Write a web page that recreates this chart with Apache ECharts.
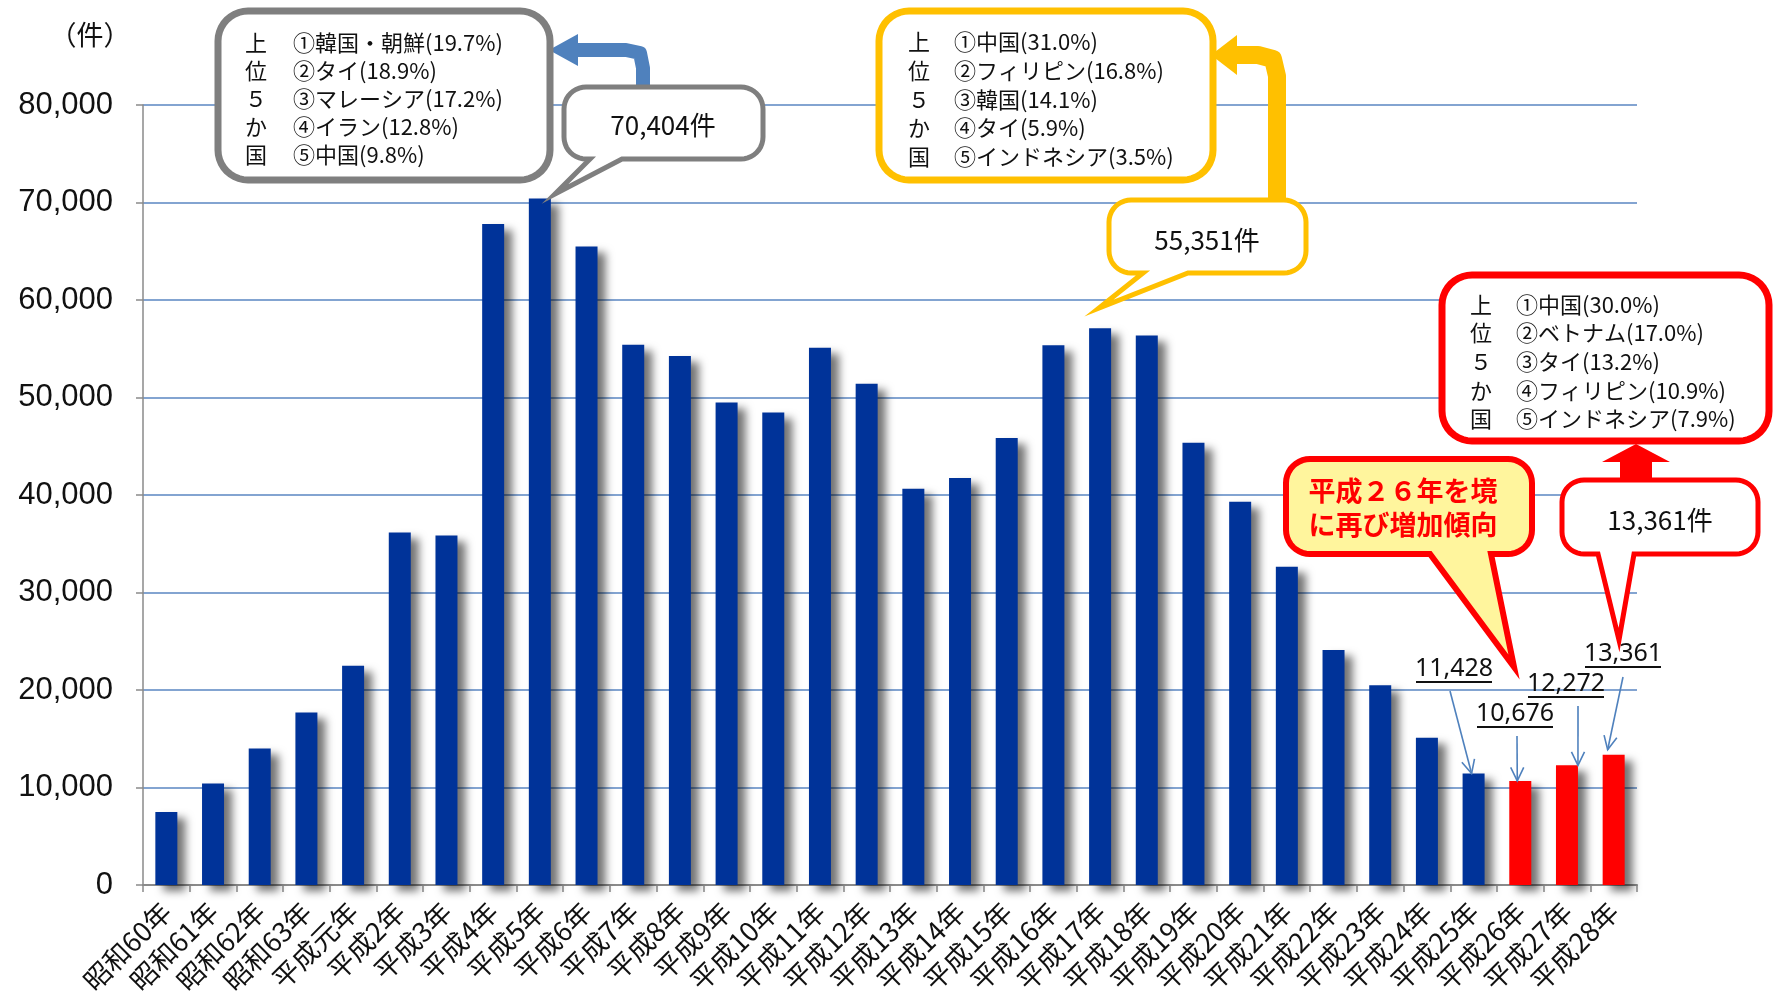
<!DOCTYPE html>
<html><head><meta charset="utf-8">
<script src="https://cdn.jsdelivr.net/npm/echarts@6/dist/echarts.min.js"></script>
<style>html,body{margin:0;padding:0;background:#fff}#c{width:1773px;height:1000px}</style>
</head><body><div id="c"></div>
<script>
// ---- data ----
const categories = ['昭和60年','昭和61年','昭和62年','昭和63年','平成元年','平成2年','平成3年','平成4年','平成5年','平成6年','平成7年','平成8年','平成9年','平成10年','平成11年','平成12年','平成13年','平成14年','平成15年','平成16年','平成17年','平成18年','平成19年','平成20年','平成21年','平成22年','平成23年','平成24年','平成25年','平成26年','平成27年','平成28年'];
const values = [7500,10400,14000,17700,22500,36150,35850,67800,70404,65500,55400,54250,49500,48450,55100,51400,40650,41750,45850,55351,57100,56350,45350,39300,32650,24100,20500,15100,11428,10676,12272,13361];
const redFrom = '平成26年';
const yMin = 0, yMax = 80000, yStep = 10000;
const unitLabel = '（件）';
const rankRowHeads = ['上','位','５','か','国'];
const rankH5 = ['①韓国・朝鮮(19.7%)','②タイ(18.9%)','③マレーシア(17.2%)','④イラン(12.8%)','⑤中国(9.8%)'];
const rankH16 = ['①中国(31.0%)','②フィリピン(16.8%)','③韓国(14.1%)','④タイ(5.9%)','⑤インドネシア(3.5%)'];
const rankH28 = ['①中国(30.0%)','②ベトナム(17.0%)','③タイ(13.2%)','④フィリピン(10.9%)','⑤インドネシア(7.9%)'];
const calloutH5 = '70,404件', calloutH16 = '55,351件', calloutH28 = '13,361件';
const noteLines = ['平成２６年を境','に再び増加傾向'];
const labelled = ['平成25年','平成26年','平成27年','平成28年'];

const fmt = v => v.toLocaleString('en-US');
const redIdx = categories.indexOf(redFrom);
const CJK = '"Noto Sans CJK JP","Noto Sans",sans-serif';

const chart = echarts.init(document.getElementById('c'), null, {renderer:'canvas'});
chart.setOption({
  animation:false,
  backgroundColor:'#fff',
  grid:{left:143,right:136,top:105,bottom:115,containLabel:false,outerBoundsMode:'none'},
  xAxis:{type:'category',data:categories,boundaryGap:true,
    axisLine:{show:true,lineStyle:{color:'#8a8a8a',width:2}},
    axisTick:{show:true,length:7,lineStyle:{color:'#8a8a8a',width:1.5},alignWithLabel:false,interval:0},
    axisLabel:{interval:0,rotate:45,margin:22,fontSize:27,color:'#111',fontFamily:CJK},
    splitLine:{show:false}},
  yAxis:{type:'value',min:yMin,max:yMax,interval:yStep,
    axisLine:{show:true,lineStyle:{color:'#8a8a8a',width:1.5}},
    axisTick:{show:true,length:7,lineStyle:{color:'#8a8a8a',width:1.5}},
    axisLabel:{formatter:v=>fmt(v),fontSize:31,color:'#111',margin:30,fontFamily:'"Liberation Sans",Arial,sans-serif'},
    splitLine:{show:true,lineStyle:{color:'#5a86c2',width:1.5}}},
  series:[{type:'bar',barWidth:22,z:3,
    data:values.map((v,i)=>({value:v,itemStyle:{color:i>=redIdx?'#ff0000':'#003399'}})),
    itemStyle:{shadowColor:'rgba(0,0,0,0.55)',shadowBlur:9,shadowOffsetX:8,shadowOffsetY:6}}]
});

// rounded rectangle (with optional bottom tail) as polygon points
function calloutPts(x,y,w,h,r,tail){
  const pts=[];
  const arc=(cx,cy,a0,a1)=>{ for(let k=0;k<=10;k++){const a=a0+(a1-a0)*k/10; pts.push([cx+r*Math.cos(a),cy+r*Math.sin(a)]);} };
  const P=Math.PI;
  arc(x+r,y+r,P,1.5*P);
  arc(x+w-r,y+r,1.5*P,2*P);
  arc(x+w-r,y+h-r,0,0.5*P);
  if(tail){ pts.push([tail[1],y+h]); pts.push([tail[2],tail[3]]); pts.push([tail[0],y+h]); }
  arc(x+r,y+h-r,0.5*P,P);
  return pts;
}
const G=[];
function box(x,y,w,h,r,color,lw,fill,tail){
  G.push({type:'polygon',z:100,shape:{points:calloutPts(x,y,w,h,r,tail)},
    style:{fill:fill||'#fff',stroke:color,lineWidth:lw,lineJoin:'miter',miterLimit:10}});
}
function txt(t,x,y,size,opt){
  opt=opt||{};
  G.push({type:'text',z:110,style:{text:t,x:x,y:y,fill:opt.color||'#111',
    font:`${opt.weight||'normal'} ${size}px ${opt.family||CJK}`,
    textAlign:opt.align||'left',textVerticalAlign:'middle'}});
}
function rankBox(x,y,w,h,color,headX,colX,rowYs,items){
  box(x,y,w,h,30,color,7);
  rowYs.forEach((ry,i)=>{ txt(rankRowHeads[i],headX,ry,22,{align:'center'}); txt(items[i],colX,ry,22); });
}
// Heisei 5 (grey)
rankBox(218,11,332,169,'#7f7f7f',256,293,[43,71,99,127,155],rankH5);
box(564,87,199,72,22,'#7f7f7f',5,'#fff',[590,622,555,194]);
txt(calloutH5,663,125,26,{align:'center'});
G.push({type:'polyline',z:99,shape:{points:[[643,87],[643,68],[640,53],[626,50],[577,50]]},
  style:{stroke:'#4f81bd',lineWidth:14,fill:null,lineJoin:'round'}});
G.push({type:'polygon',z:99,shape:{points:[[578,34],[578,66],[549,50]]},style:{fill:'#4f81bd'}});
// Heisei 16 (yellow)
rankBox(879,11,334,169,'#ffc000',919,954,[42,71,100,128,157],rankH16);
G.push({type:'polyline',z:99,shape:{points:[[1277,200],[1277,76],[1273,59],[1258,55],[1236,55]]},
  style:{stroke:'#ffc000',lineWidth:18,fill:null,lineJoin:'round'}});
G.push({type:'polygon',z:99,shape:{points:[[1237,35],[1237,75],[1211,55]]},style:{fill:'#ffc000'}});
box(1109,200,197,73,22,'#ffc000',5,'#fff',[1143,1188,1099,308]);
txt(calloutH16,1207,240,26,{align:'center'});
// Heisei 28 (red)
rankBox(1442,275,327,166,'#ff0000',1481,1516,[305,333,362,391,419],rankH28);
G.push({type:'polygon',z:99,shape:{points:[[1620,480],[1620,462],[1602,462],[1636,444],[1670,462],[1652,462],[1652,480]]},style:{fill:'#ff0000'}});
box(1562,480,196,74,22,'#ff0000',5,'#fff',[1598,1634,1619,640]);
txt(calloutH28,1660,520,26,{align:'center'});
// note callout (pale yellow)
box(1286,459,246,95,24,'#ff0000',6,'#fff59d',[1430,1491,1514,667]);
txt(noteLines[0],1403,491,27,{align:'center',color:'#ff0000',weight:'bold'});
txt(noteLines[1],1403,525,27,{align:'center',color:'#ff0000',weight:'bold'});

// value labels with underline + thin arrows to bar tops
const labelPos = [[1454,669,-2,0,-4,22],[1515,714,-3,0,2,22],[1566,684,11,0,12,22],[1623,654,-6,-5,0,23]];
labelled.forEach((c,k)=>{
  const i=categories.indexOf(c);
  const p=chart.convertToPixel({gridIndex:0},[i,values[i]]);
  const [lx,ly,dx,dy,sx,sy]=labelPos[k];
  txt(fmt(values[i]),lx,ly,25,{align:'center',family:'"Noto Sans",sans-serif',color:'#111'});
  G.push({type:'line',z:110,shape:{x1:lx-38,y1:ly+13,x2:lx+38,y2:ly+13},style:{stroke:'#111',lineWidth:2}});
  const tx=p[0]+dx, ty=p[1]+dy, fx=lx+sx, fy=ly+sy;
  G.push({type:'line',z:105,shape:{x1:fx,y1:fy,x2:tx,y2:ty},style:{stroke:'#4f81bd',lineWidth:1.6}});
  const ang=Math.atan2(ty-fy,tx-fx), L=15, a=0.45;
  G.push({type:'polyline',z:105,shape:{points:[[tx-L*Math.cos(ang-a),ty-L*Math.sin(ang-a)],[tx,ty],[tx-L*Math.cos(ang+a),ty-L*Math.sin(ang+a)]]},
    style:{stroke:'#4f81bd',lineWidth:1.6,fill:null}});
});
txt(unitLabel,90,35,27,{align:'center'});

chart.setOption({graphic:G});
</script></body></html>
